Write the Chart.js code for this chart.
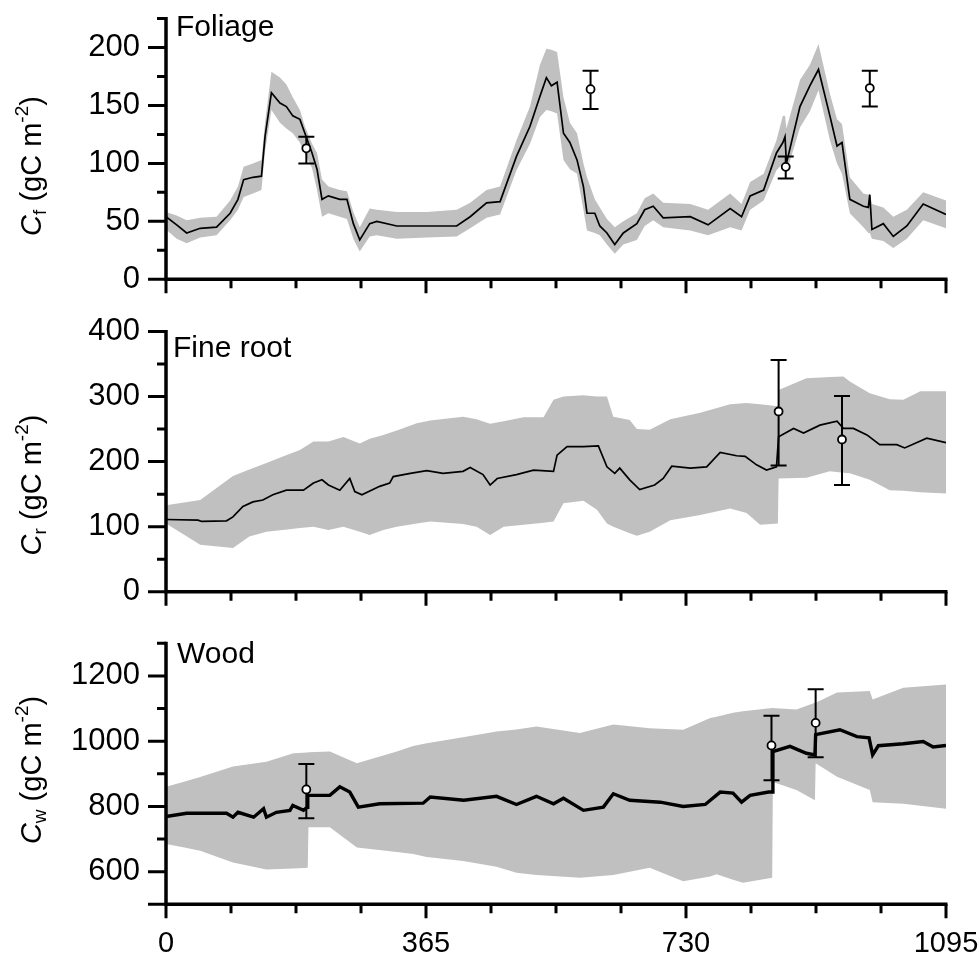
<!DOCTYPE html>
<html>
<head>
<meta charset="utf-8">
<title>Carbon pools</title>
<script src="https://cdn.jsdelivr.net/npm/chart.js@4.4.0/dist/chart.umd.min.js"></script>
<style>
  html, body { margin: 0; padding: 0; background: #fff; }
  #wrap { position: relative; width: 980px; height: 955px; }
  #wrap canvas { position: absolute; left: 0; }
</style>
</head>
<body>
<div id="wrap">
  <canvas id="foliage" width="980" height="310" style="top:0"></canvas>
  <canvas id="root" width="980" height="310" style="top:310px"></canvas>
  <canvas id="wood" width="980" height="335" style="top:620px"></canvas>
</div>
<script>
const FONT = "'Liberation Sans', Arial, Helvetica, sans-serif";

// day axis shared by the three panels
const dayTicks = [0, 365, 730, 1095];

// Foliage: median and uncertainty band
const foliageDays = [0, 15, 29, 48, 71, 90, 101, 109, 122, 134, 139, 148, 160, 169, 178, 188, 195, 205, 212, 219, 228, 244, 254, 263, 272, 286, 296, 324, 366, 408, 427, 450, 469, 492, 511, 525, 534, 541, 549, 558, 567, 577, 586, 591, 602, 609, 619, 630, 642, 661, 672, 684, 698, 736, 761, 792, 808, 820, 839, 857, 866, 869, 871, 890, 904, 916, 932, 942, 949, 960, 979, 986, 988, 991, 1007, 1021, 1040, 1063, 1095];
const foliageMid = [54, 47, 40, 44, 45, 57, 69, 86, 88, 89, 123, 161, 152, 149, 141, 138, 126, 109, 95, 69, 72, 69, 69, 48, 34, 48, 50, 46, 46, 46, 54, 66, 67, 106, 132, 158, 174, 167, 170, 126, 118, 103, 80, 57, 57, 46, 40, 30, 40, 48, 60, 63, 53, 54, 47, 61, 54, 72, 77, 109, 118, 123, 100, 149, 167, 181, 141, 115, 118, 69, 63, 62, 73, 43, 48, 37, 46, 65, 56];
const foliageLow = [43, 35, 31, 36, 38, 51, 60, 71, 74, 77, 110, 146, 135, 130, 126, 118, 108, 96, 77, 54, 57, 54, 52, 35, 24, 37, 38, 35, 36, 37, 44, 53, 56, 94, 117, 140, 146, 145, 143, 103, 95, 91, 60, 42, 40, 38, 30, 22, 30, 34, 46, 51, 45, 42, 38, 45, 42, 60, 68, 94, 100, 97, 92, 131, 145, 163, 120, 100, 91, 57, 45, 40, 40, 35, 33, 27, 35, 51, 44];
const foliageHigh = [58, 55, 51, 53, 54, 68, 80, 97, 100, 103, 135, 179, 174, 168, 157, 146, 132, 117, 109, 86, 80, 77, 76, 58, 45, 61, 60, 58, 58, 60, 66, 77, 80, 120, 149, 185, 199, 198, 196, 157, 135, 126, 100, 88, 69, 62, 52, 45, 50, 57, 70, 74, 66, 65, 60, 74, 65, 84, 91, 120, 141, 141, 130, 172, 185, 203, 160, 138, 134, 88, 74, 73, 74, 65, 62, 54, 60, 75, 68];
const foliageObsDays = [197, 596, 870, 988];
const foliageObs = [113, 164, 97, 165];
const foliageObsLow = [100, 147, 87, 149];
const foliageObsHigh = [123, 180, 106, 180];
const foliageTicks = [0, 50, 100, 150, 200];
const foliageMinor = [25, 75, 125, 175, 225];

// Fine root
const rootLineDays = [0, 45, 50, 85, 94, 108, 122, 136, 150, 169, 193, 207, 219, 228, 244, 258, 265, 275, 300, 314, 319, 343, 366, 389, 417, 427, 445, 455, 465, 492, 516, 544, 549, 563, 586, 607, 619, 630, 637, 651, 665, 686, 698, 710, 736, 759, 778, 801, 813, 829, 843, 857, 860, 881, 895, 918, 942, 951, 965, 984, 1002, 1026, 1037, 1068, 1095];
const rootLine = [111, 110, 108, 109, 115, 131, 138, 141, 149, 156, 156, 167, 172, 164, 156, 174, 154, 149, 162, 167, 177, 182, 186, 182, 185, 191, 180, 164, 174, 180, 187, 185, 210, 223, 223, 224, 192, 182, 190, 172, 157, 164, 174, 193, 190, 192, 214, 209, 208, 195, 187, 192, 238, 251, 244, 256, 262, 251, 251, 241, 226, 226, 221, 236, 229];
const rootBandDays = [0, 48, 94, 117, 141, 164, 188, 207, 228, 249, 272, 286, 305, 324, 352, 371, 417, 436, 455, 474, 502, 530, 544, 558, 586, 605, 619, 628, 651, 661, 679, 708, 750, 792, 815, 834, 859, 860, 899, 932, 951, 960, 988, 1016, 1035, 1059, 1095];
const rootLow = [105, 72, 67, 85, 92, 95, 98, 100, 95, 100, 92, 87, 95, 100, 105, 108, 104, 100, 87, 100, 103, 106, 108, 136, 140, 126, 105, 100, 90, 86, 92, 110, 118, 128, 121, 103, 105, 174, 175, 185, 183, 182, 172, 156, 155, 153, 151];
const rootHigh = [133, 141, 178, 188, 198, 208, 218, 231, 231, 238, 228, 235, 241, 248, 259, 263, 269, 265, 258, 262, 268, 268, 295, 300, 302, 300, 300, 269, 264, 250, 249, 265, 275, 288, 290, 288, 285, 310, 328, 330, 331, 323, 305, 296, 295, 308, 308];
const rootObsDays = [860, 949];
const rootObs = [277, 234];
const rootObsLow = [194, 164];
const rootObsHigh = [356, 301];
const rootTicks = [0, 100, 200, 300, 400];
const rootMinor = [50, 150, 250, 350];

// Wood
const woodLineDays = [0, 29, 85, 94, 101, 123, 137, 141, 155, 174, 178, 193, 198, 199, 230, 244, 258, 270, 300, 361, 371, 418, 464, 492, 520, 544, 558, 586, 614, 628, 651, 694, 726, 757, 778, 796, 808, 820, 846, 851, 852, 876, 899, 911, 912, 946, 970, 987, 992, 1000, 1035, 1063, 1077, 1095];
const woodLine = [769, 779, 779, 767, 782, 767, 793, 767, 782, 788, 803, 788, 797, 834, 834, 860, 844, 798, 808, 810, 829, 819, 831, 806, 831, 808, 825, 788, 798, 839, 819, 813, 800, 806, 844, 841, 813, 834, 844, 844, 968, 984, 963, 958, 1020, 1035, 1014, 1010, 958, 986, 992, 999, 982, 987];
const woodBandDays = [0, 24, 48, 94, 141, 179, 199, 200, 230, 268, 324, 347, 366, 417, 464, 492, 520, 581, 628, 679, 726, 764, 773, 796, 810, 851, 852, 885, 911, 912, 942, 988, 992, 1035, 1095];
const woodLow = [685, 675, 664, 628, 607, 610, 612, 736, 736, 674, 660, 654, 645, 633, 615, 597, 590, 581, 590, 612, 571, 585, 592, 575, 566, 581, 875, 850, 819, 932, 891, 850, 813, 808, 793];
const woodHigh = [860, 875, 890, 922, 937, 963, 965, 966, 968, 932, 968, 985, 994, 1012, 1030, 1036, 1045, 1025, 1051, 1040, 1035, 1071, 1075, 1087, 1092, 1102, 1102, 1097, 1118, 1118, 1149, 1154, 1128, 1164, 1174];
const woodObsDays = [197, 850, 912];
const woodObs = [852, 987, 1056];
const woodObsLow = [764, 880, 951];
const woodObsHigh = [930, 1078, 1159];
const woodTicks = [600, 800, 1000, 1200];
const woodMinor = [700, 900, 1100, 1300];

function pts(xs, ys) {
    return xs.map((x, i) => ({ x: x, y: ys[i] }));
}

// y-axis title: C with subscript, then (gC m^-2)
function drawTitle(ctx, cx, cy, sub) {
    const parts = [
        { t: 'C', f: 'italic 29px ' + FONT, dy: 0 },
        { t: sub, f: '19px ' + FONT, dy: 5 },
        { t: ' (gC m', f: '29px ' + FONT, dy: 0 },
        { t: '-2', f: '19px ' + FONT, dy: -13 },
        { t: ')', f: '29px ' + FONT, dy: 0 }
    ];
    let total = 0;
    parts.forEach(p => { ctx.font = p.f; p.w = ctx.measureText(p.t).width; total += p.w; });
    ctx.save();
    ctx.translate(cx, cy);
    ctx.rotate(-Math.PI / 2);
    ctx.fillStyle = '#000';
    ctx.textBaseline = 'alphabetic';
    ctx.textAlign = 'left';
    let x = -total / 2;
    parts.forEach(p => {
        ctx.font = p.f;
        ctx.fillText(p.t, x, p.dy);
        x += p.w;
    });
    ctx.restore();
}

function panelPlugin(cfg) {
    return {
        id: 'panel-' + cfg.id,
        // error bars go under the open circles
        beforeDatasetDraw(chart, args) {
            if (args.index !== 0) return;
            const xs = chart.scales.x, ys = chart.scales.y, ctx = chart.ctx;
            ctx.save();
            ctx.strokeStyle = '#000';
            ctx.lineWidth = 2;
            cfg.obsDays.forEach((d, i) => {
                const px = xs.getPixelForValue(d);
                const top = ys.getPixelForValue(cfg.obsHigh[i]);
                const bot = ys.getPixelForValue(cfg.obsLow[i]);
                ctx.beginPath();
                ctx.moveTo(px, top); ctx.lineTo(px, bot);
                ctx.moveTo(px - 8, top); ctx.lineTo(px + 8, top);
                ctx.moveTo(px - 8, bot); ctx.lineTo(px + 8, bot);
                ctx.stroke();
            });
            ctx.restore();
        },
        afterDraw(chart) {
            const ctx = chart.ctx, a = chart.chartArea;
            const xs = chart.scales.x, ys = chart.scales.y;
            ctx.save();
            ctx.strokeStyle = '#000';
            ctx.fillStyle = '#000';
            ctx.lineCap = 'butt';

            // axis lines
            ctx.lineWidth = 3.5;
            ctx.beginPath();
            ctx.moveTo(a.left, a.top - 1.5);
            ctx.lineTo(a.left, a.bottom);
            ctx.lineTo(a.right + 1.5, a.bottom);
            ctx.stroke();

            ctx.lineWidth = 3;
            ctx.beginPath();
            // y ticks point left; the bottom of the axis always gets a long one
            [ys.min].concat(cfg.yTicks).forEach(v => {
                const py = ys.getPixelForValue(v);
                ctx.moveTo(a.left, py); ctx.lineTo(a.left - 18, py);
            });
            cfg.yMinor.forEach(v => {
                const py = ys.getPixelForValue(v);
                ctx.moveTo(a.left, py); ctx.lineTo(a.left - 9, py);
            });
            // day ticks point down, quarters in between
            dayTicks.forEach(v => {
                const px = xs.getPixelForValue(v);
                ctx.moveTo(px, a.bottom); ctx.lineTo(px, a.bottom + 14);
            });
            for (let q = 1; q < 12; q++) {
                if (q % 4 === 0) continue;
                const px = xs.getPixelForValue(q * 365 / 4);
                ctx.moveTo(px, a.bottom); ctx.lineTo(px, a.bottom + 9);
            }
            ctx.stroke();

            // tick labels
            ctx.font = '31px ' + FONT;
            ctx.textAlign = 'right';
            ctx.textBaseline = 'middle';
            cfg.yTicks.forEach(v => {
                ctx.fillText(String(v), a.left - 26, ys.getPixelForValue(v));
            });
            if (cfg.showDays) {
                ctx.font = '29px ' + FONT;
                ctx.textAlign = 'center';
                ctx.textBaseline = 'alphabetic';
                dayTicks.forEach(v => {
                    ctx.fillText(String(v), xs.getPixelForValue(v), a.bottom + 47.5);
                });
            }

            // panel name
            ctx.font = '30px ' + FONT;
            ctx.textAlign = 'left';
            ctx.textBaseline = 'alphabetic';
            ctx.fillText(cfg.name, cfg.nameX, cfg.nameY);
            ctx.restore();

            drawTitle(ctx, 41, cfg.titleY, cfg.sub);
        }
    };
}

function makePanel(cfg) {
    return new Chart(document.getElementById(cfg.id), {
        type: 'line',
        data: {
            datasets: [
                {
                    data: pts(cfg.obsDays, cfg.obs),
                    showLine: false,
                    pointRadius: 4,
                    pointBackgroundColor: '#fff',
                    pointBorderColor: '#000',
                    pointBorderWidth: 1.8
                },
                {
                    data: pts(cfg.lineDays, cfg.line),
                    borderColor: '#000',
                    borderWidth: cfg.lineWidth,
                    pointRadius: 0,
                    fill: false
                },
                {
                    data: pts(cfg.bandDays, cfg.high),
                    borderColor: 'rgba(0,0,0,0)',
                    backgroundColor: '#c0c0c0',
                    pointRadius: 0,
                    fill: '+1'
                },
                {
                    data: pts(cfg.bandDays, cfg.low),
                    borderColor: 'rgba(0,0,0,0)',
                    pointRadius: 0,
                    fill: false
                }
            ]
        },
        options: {
            responsive: false,
            animation: false,
            events: [],
            layout: { padding: { left: 0, right: 34, top: cfg.padTop, bottom: 0 } },
            plugins: { legend: { display: false }, tooltip: { enabled: false } },
            scales: {
                x: {
                    type: 'linear',
                    min: 0,
                    max: 1095,
                    grid: { display: false, drawTicks: false },
                    border: { display: false },
                    ticks: { display: false },
                    afterFit: s => { s.height = cfg.xHeight; }
                },
                y: {
                    min: cfg.yMin,
                    max: cfg.yMax,
                    grid: { display: false, drawTicks: false },
                    border: { display: false },
                    ticks: { display: false },
                    afterFit: s => { s.width = 166; }
                }
            }
        },
        plugins: [panelPlugin(cfg)]
    });
}

makePanel({
    id: 'foliage', name: 'Foliage', sub: 'f', nameX: 176, nameY: 36, titleY: 166,
    lineDays: foliageDays, line: foliageMid, bandDays: foliageDays, low: foliageLow, high: foliageHigh,
    obsDays: foliageObsDays, obs: foliageObs, obsLow: foliageObsLow, obsHigh: foliageObsHigh,
    yMin: 0, yMax: 225, yTicks: foliageTicks, yMinor: foliageMinor,
    lineWidth: 1.7, padTop: 18.5, xHeight: 30.7, showDays: false
});

makePanel({
    id: 'root', name: 'Fine root', sub: 'r', nameX: 173, nameY: 47, titleY: 175,
    lineDays: rootLineDays, line: rootLine, bandDays: rootBandDays, low: rootLow, high: rootHigh,
    obsDays: rootObsDays, obs: rootObs, obsLow: rootObsLow, obsHigh: rootObsHigh,
    yMin: 0, yMax: 400, yTicks: rootTicks, yMinor: rootMinor,
    lineWidth: 1.7, padTop: 21.5, xHeight: 28.3, showDays: false
});

makePanel({
    id: 'wood', name: 'Wood', sub: 'w', nameX: 177, nameY: 43, titleY: 150,
    lineDays: woodLineDays, line: woodLine, bandDays: woodBandDays, low: woodLow, high: woodHigh,
    obsDays: woodObsDays, obs: woodObs, obsLow: woodObsLow, obsHigh: woodObsHigh,
    yMin: 500, yMax: 1300, yTicks: woodTicks, yMinor: woodMinor,
    lineWidth: 3.4, padTop: 23.3, xHeight: 50.7, showDays: true
});
</script>
</body>
</html>
